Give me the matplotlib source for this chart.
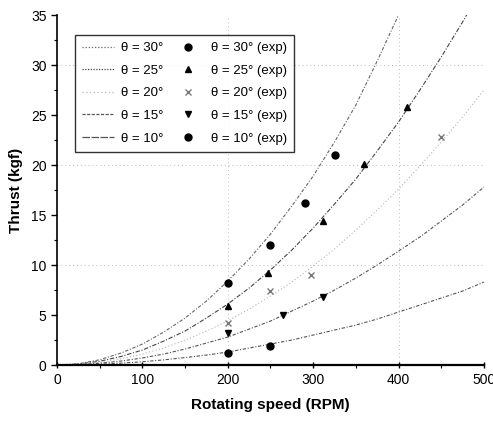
import numpy as np
import matplotlib.pyplot as plt

plt.rcParams['font.family'] = ['Liberation Sans', 'DejaVu Sans']

# theoretical curves, every 25 RPM
rpm_curve = list(range(0, 501, 25))
curve_30 = [0, 0.13, 0.53, 1.2, 2.1, 3.3, 4.7, 6.4, 8.4, 10.6, 13.1, 15.9, 18.9,
            22.3, 26.0, 30.4, 35.0, None, None, None, None]
curve_25 = [0, 0.1, 0.38, 0.86, 1.5, 2.4, 3.4, 4.7, 6.1, 7.7, 9.5, 11.5, 13.7,
            16.1, 18.6, 21.4, 24.3, 27.5, 30.8, 34.3, 38.0]
curve_20 = [0, 0.07, 0.27, 0.62, 1.1, 1.7, 2.5, 3.4, 4.4, 5.6, 6.9, 8.3, 9.9,
            11.6, 13.5, 15.5, 17.6, 19.9, 22.3, 24.8, 27.5]
curve_15 = [0, 0.04, 0.18, 0.4, 0.71, 1.1, 1.6, 2.2, 2.8, 3.6, 4.4, 5.4, 6.4,
            7.5, 8.7, 10.0, 11.4, 12.8, 14.4, 16.0, 17.8]
curve_10 = [0, 0.02, 0.08, 0.19, 0.33, 0.52, 0.75, 1.0, 1.3, 1.7, 2.1, 2.5, 3.0,
            3.5, 4.0, 4.6, 5.3, 6.0, 6.7, 7.4, 8.3]

# experiments
rpm_30 = [200, 250, 290, 325]
exp_30 = [8.2, 12.0, 16.2, 21.0]
rpm_25 = [200, 247, 311, 360, 410]
exp_25 = [5.9, 9.2, 14.4, 20.1, 25.8]
rpm_20 = [200, 250, 297, 450]
exp_20 = [4.2, 7.4, 9.0, 22.8]
rpm_15 = [200, 265, 311]
exp_15 = [3.2, 5.0, 6.8]
rpm_10 = [200, 250]
exp_10 = [1.2, 1.9]

angles = [30, 25, 20, 15, 10]

fig = plt.figure(figsize=(4.93, 4.24), dpi=100)
ax = fig.add_axes([0.1156, 0.139, 0.866, 0.8256])

def clean(vals):
    return [np.nan if v is None else v for v in vals]

curves = [curve_30, curve_25, curve_20, curve_15, curve_10]
styles = [(0, (1, 1.5)), (0, (1, 1.2)), (0, (1, 2)), (0, (2.5, 1.2)), (0, (6, 1.2))]
line_styles = [(0, (3, 1.5, 1, 1.5)), (0, (4, 1.5, 1, 1.5)), (0, (1, 2)),
               (0, (3, 1.5, 1, 1.5)), (0, (3, 1.5, 1, 1.5))]
colors = ['#666666', '#444444', '#b5b5b5', '#555555', '#555555']

handles = []
for a, c, ls, lls, col in zip(angles, curves, styles, line_styles, colors):
    ax.plot(rpm_curve, clean(c), linestyle=lls, color=col, lw=0.8)
    # legend proxy with the style seen in the legend box
    h, = ax.plot([], [], linestyle=ls, color=col, lw=0.9, label=f'θ = {a}°')
    handles.append(h)

exps = [(rpm_30, exp_30, 'o', 'black', 5),
        (rpm_25, exp_25, '^', 'black', 5),
        (rpm_20, exp_20, 'x', '#777777', 4),
        (rpm_15, exp_15, 'v', 'black', 5),
        (rpm_10, exp_10, 'o', 'black', 5)]
for a, (r, e, m, col, ms) in zip(angles, exps):
    h, = ax.plot(r, e, linestyle='none', marker=m, color=col, ms=ms,
                 label=f'θ = {a}° (exp)')
    handles.append(h)

# faint dotted grid
for gx in [200, 400]:
    ax.axvline(gx, color='#bbbbbb', lw=0.7, ls=(0, (1, 3)), zorder=0)
for gy in [10, 20, 30]:
    ax.axhline(gy, color='#bbbbbb', lw=0.7, ls=(0, (1, 3)), zorder=0)

ax.set_xlim(0, 500)
ax.set_ylim(0, 35)
ax.set_xticks(range(0, 501, 100))
ax.set_xticks(range(50, 500, 100), minor=True)
ax.set_yticks(range(0, 36, 5))
ax.set_yticks(np.arange(2.5, 35, 5), minor=True)

ax.spines['top'].set_visible(False)
ax.spines['right'].set_visible(False)
ax.spines['left'].set_linewidth(1.2)
ax.spines['bottom'].set_linewidth(1.6)
ax.tick_params(axis='both', which='major', labelsize=10, length=4, width=1)
ax.tick_params(axis='both', which='minor', length=2.5, width=0.8)
ax.tick_params(axis='x', direction='inout')

ax.set_xlabel('Rotating speed (RPM)', fontsize=11, fontweight='bold', labelpad=8)
ax.set_ylabel('Thrust (kgf)', fontsize=11, fontweight='bold', labelpad=6)

leg = ax.legend(handles=handles, ncol=2, loc='upper left',
                bbox_to_anchor=(0.027, 0.962), fontsize=9.5, frameon=True,
                fancybox=False, edgecolor='black', handlelength=2.4,
                handletextpad=0.5, columnspacing=0.7, labelspacing=0.78,
                borderpad=0.55)
leg.get_frame().set_linewidth(1.0)

fig.savefig('out.png', dpi=100)
